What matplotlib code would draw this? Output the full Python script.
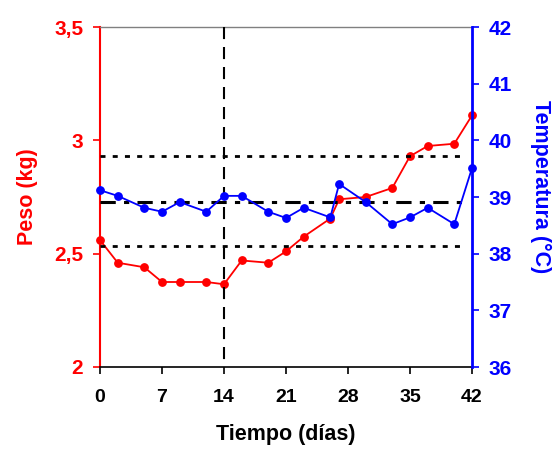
import matplotlib
matplotlib.use("Agg")
import matplotlib.pyplot as plt

plt.rcParams['font.family'] = ['Liberation Sans', 'DejaVu Sans']
plt.rcParams['font.weight'] = 'bold'

# Sampling days
dias = [0, 2, 5, 7, 9, 12, 14, 16, 19, 21, 23, 26, 27, 30, 33, 35, 37, 40, 42]
# Body weight (kg)
peso = [2.56, 2.46, 2.44, 2.375, 2.375, 2.375, 2.365, 2.47, 2.46, 2.51,
        2.575, 2.655, 2.74, 2.75, 2.79, 2.93, 2.975, 2.985, 3.11]
# Body temperature (°C)
temperatura = [39.12, 39.02, 38.81, 38.74, 38.91, 38.74, 39.02, 39.02, 38.74, 38.63,
               38.81, 38.64, 39.23, 38.91, 38.52, 38.64, 38.81, 38.52, 39.51]

# Reference levels for temperature: mean and limits
temp_media = 38.92
temp_lim_sup = 39.72
temp_lim_inf = 38.13
dia_evento = 14

x_ticks = [0, 7, 14, 21, 28, 35, 42]
peso_ticks = [2, 2.5, 3, 3.5]
peso_labels = ['2', '2,5', '3', '3,5']
temp_ticks = [36, 37, 38, 39, 40, 41, 42]

RED = '#FF0000'
BLUE = '#0000FF'

fig = plt.figure(figsize=(5.6, 4.49), dpi=100)
ax = fig.add_axes([100 / 560, 1 - 367 / 449, 372 / 560, 340 / 449])
ax2 = ax.twinx()

# Weight series on the left axis
ax.plot(dias, peso, color=RED, lw=1.3, marker='o', ms=5.3, zorder=3, clip_on=False)
ax.set_xlim(0, 42)
ax.set_ylim(2, 3.5)
ax.set_xticks(x_ticks)
ax.set_yticks(peso_ticks)
ax.set_yticklabels(peso_labels)

ax2.set_ylim(36, 42)
ax2.set_yticks(temp_ticks)

# Reference lines and temperature series on the right axis
ax2.axhline(temp_lim_sup, xmax=0.978, color='black', lw=2, ls=(0, (1.8, 2.6)), zorder=1)
ax2.axhline(temp_lim_inf, xmax=0.978, color='black', lw=2, ls=(0, (1.8, 2.6)), zorder=1)
ax2.axhline(temp_media, xmax=0.978, color='black', lw=2.2, ls=(0, (5, 2.7, 1.7, 2.7)), zorder=1)
# vertical marker drawn top-down so the dash pattern starts at the top edge
ax2.plot([dia_evento, dia_evento], [temp_ticks[-1], temp_ticks[0]], color='black',
         lw=1.5, ls=(0, (5.8, 3.8)), zorder=1)
ax2.plot(dias, temperatura, color=BLUE, lw=1.3, marker='o', ms=5.3, zorder=4, clip_on=False)
ax2.set_ylim(36, 42)
ax2.set_xlim(0, 42)

# Spines
ax.spines['left'].set_color(RED)
ax.spines['left'].set_linewidth(1.5)
ax.spines['bottom'].set_color('black')
ax.spines['bottom'].set_linewidth(1.2)
ax.spines['top'].set_color('#808080')
ax.spines['top'].set_linewidth(1.0)
ax.spines['right'].set_visible(False)
ax2.spines['right'].set_color(BLUE)
ax2.spines['right'].set_linewidth(2)
ax2.spines['left'].set_visible(False)
ax2.spines['top'].set_visible(False)
ax2.spines['bottom'].set_visible(False)

# Ticks
ax.tick_params(axis='x', direction='out', length=5, width=1.2, color='black',
               labelsize=14, pad=11, labelcolor='black')
ax.tick_params(axis='y', direction='out', length=5, width=1.2, color=RED,
               labelsize=15, pad=7, labelcolor=RED)
ax2.tick_params(axis='y', direction='out', length=5, width=1.2, color=BLUE,
                labelsize=15, pad=7, labelcolor=BLUE)
for lab in ax.get_xticklabels() + ax.get_yticklabels() + ax2.get_yticklabels():
    lab.set_fontweight('bold')

# Axis titles
ax.set_xlabel('Tiempo (días)', fontsize=15.5, fontweight='bold', labelpad=13)
ax.set_ylabel('Peso (kg)', fontsize=15.5, fontweight='bold', color=RED, labelpad=12)
ax2.set_ylabel('Temperatura (°C)', fontsize=15.5, fontweight='bold', color=BLUE,
               rotation=-90, labelpad=28)
ax2.yaxis.label.set_y(0.53)

fig.savefig('out.png', dpi=100)
